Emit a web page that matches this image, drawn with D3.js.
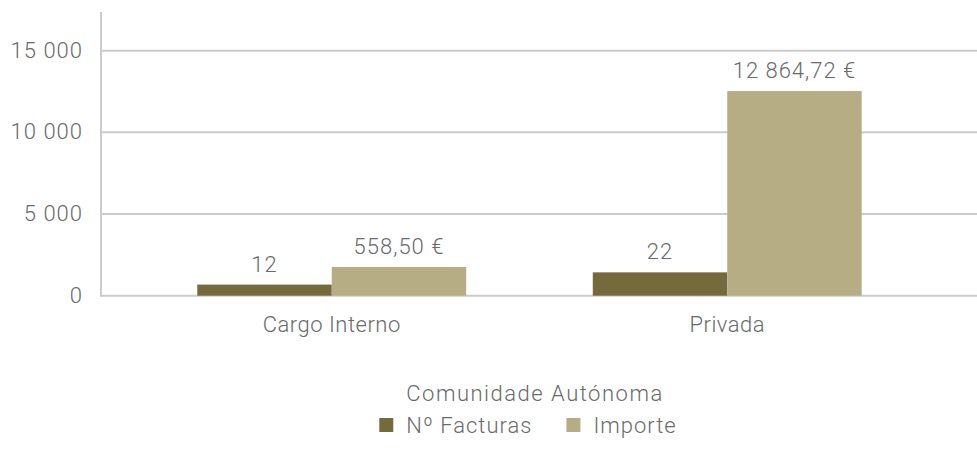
<!DOCTYPE html>
<html>
<head>
<meta charset="utf-8">
<script src="https://cdn.jsdelivr.net/npm/d3@7"></script>
<style>
  html, body { margin: 0; padding: 0; background: #ffffff; }
  svg { display: block; font-family: Roboto, "Noto Sans", sans-serif; font-weight: 300; letter-spacing: 1px; }
</style>
</head>
<body>
<svg id="chart" width="977" height="455"></svg>
<script>
// ---- data ----
const categories = ["Cargo Interno", "Privada"];
const seriesNames = ["Nº Facturas", "Importe"];
const facturasValues = [680, 1430];           // bar heights as drawn
const importeValues = [1760, 12530];          // bar heights as drawn
const facturasLabels = ["12", "22"];
const importeLabels = ["558,50 €", "12 864,72 €"];
const yTicks = [0, 5000, 10000, 15000];
const yMax = 17370;
const xTitle = "Comunidade Autónoma";
const colors = ["#756a3c", "#b7ad84"];

// ---- layout ----
const svg = d3.select("#chart");
const plotLeft = 101, plotRight = 977, plotTop = 12, plotBottom = 295.7;
const textColor = "#6a6a6a";
const gridColor = "#cccccc";
const fontSize = 22;

const y = d3.scaleLinear().domain([0, yMax]).range([plotBottom, plotTop]);
const x0 = d3.scaleBand().domain(categories).range([134, 925])
  .paddingInner(0.32).paddingOuter(0.16);
const x1 = d3.scaleBand().domain(seriesNames).range([0, x0.bandwidth()]);

// gridlines
svg.append("g").selectAll("line").data(yTicks).join("line")
  .attr("x1", plotLeft).attr("x2", plotRight)
  .attr("y1", d => y(d)).attr("y2", d => y(d))
  .attr("stroke", gridColor).attr("stroke-width", 2);

// y axis line
svg.append("line")
  .attr("x1", plotLeft).attr("x2", plotLeft)
  .attr("y1", plotTop).attr("y2", plotBottom + 1)
  .attr("stroke", gridColor).attr("stroke-width", 2);

// y tick labels
const fmt = v => d3.format(",")(v).replace(/,/g, " ");
svg.append("g").selectAll("text").data(yTicks).join("text")
  .attr("x", 83).attr("y", d => y(d) + 7)
  .attr("text-anchor", "end")
  .attr("font-size", fontSize).attr("fill", textColor)
  .text(d => fmt(d));

// bars
const rows = categories.map((c, i) => ({
  cat: c,
  items: [
    { s: seriesNames[0], v: facturasValues[i], label: facturasLabels[i], color: colors[0] },
    { s: seriesNames[1], v: importeValues[i], label: importeLabels[i], color: colors[1] }
  ]
}));

const groups = svg.append("g").selectAll("g").data(rows).join("g")
  .attr("transform", d => `translate(${x0(d.cat)},0)`);

groups.selectAll("rect").data(d => d.items).join("rect")
  .attr("x", d => x1(d.s))
  .attr("y", d => y(d.v))
  .attr("width", x1.bandwidth())
  .attr("height", d => y(0) - y(d.v))
  .attr("fill", d => d.color);

groups.selectAll("text.val").data(d => d.items).join("text")
  .attr("class", "val")
  .attr("x", d => x1(d.s) + x1.bandwidth() / 2)
  .attr("y", d => y(d.v) - 13)
  .attr("text-anchor", "middle")
  .attr("font-size", fontSize).attr("fill", textColor)
  .text(d => d.label);

// category labels
svg.append("g").selectAll("text").data(categories).join("text")
  .attr("x", d => x0(d) + x0.bandwidth() / 2)
  .attr("y", 332)
  .attr("text-anchor", "middle")
  .attr("letter-spacing", "0.5px")
  .attr("font-size", fontSize).attr("fill", textColor)
  .text(d => d);

// x axis title
svg.append("text")
  .attr("x", 535).attr("y", 401)
  .attr("text-anchor", "middle")
  .attr("letter-spacing", "1.5px")
  .attr("font-size", fontSize).attr("fill", textColor)
  .text(xTitle);

// legend
const legend = svg.append("g");
const items = legend.selectAll("g").data(seriesNames).join("g");
items.append("rect").attr("x", 0).attr("y", 418).attr("width", 14).attr("height", 14)
  .attr("fill", (d, i) => colors[i]);
items.append("text").attr("x", 27).attr("y", 433)
  .attr("font-size", fontSize).attr("fill", textColor).text(d => d);
let cx = 0;
const offsets = [];
items.each(function() {
  offsets.push(cx);
  const w = d3.select(this).select("text").node().getComputedTextLength();
  cx += 27 + w + 34;
});
const total = cx - 34;
const startX = 528 - total / 2;
items.attr("transform", (d, i) => `translate(${startX + offsets[i]},0)`);
</script>
</body>
</html>
